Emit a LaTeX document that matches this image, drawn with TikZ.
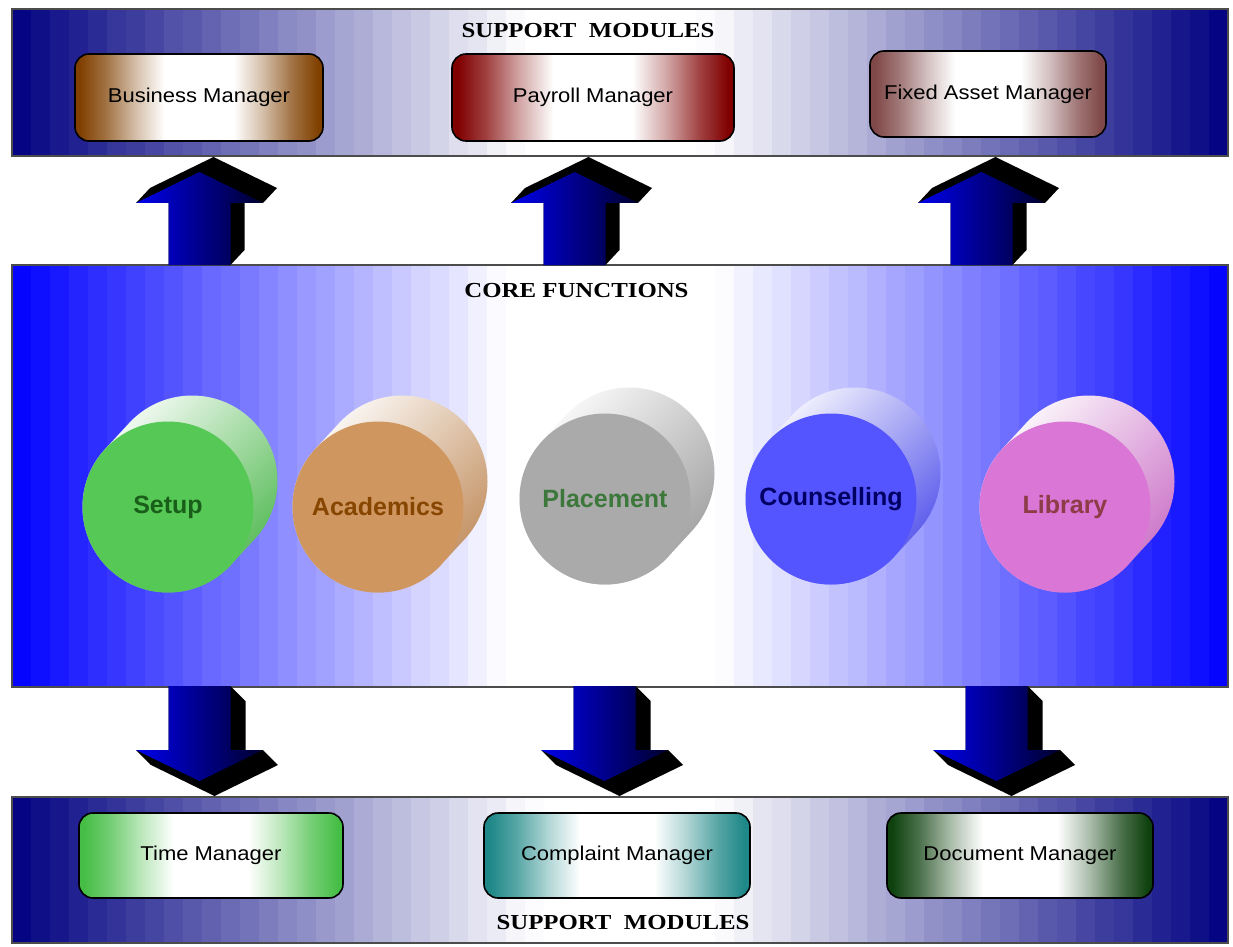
\documentclass[tikz,border=0pt]{standalone}
\usepackage{fontspec}
\usepackage{graphicx}
\setmainfont{Liberation Serif}
\setsansfont{Liberation Sans}
\usetikzlibrary{fit}

\definecolor{navyb}{RGB}{0,0,128}
\definecolor{blueb}{RGB}{0,0,255}
\definecolor{bizc}{RGB}{128,64,0}
\definecolor{payc}{RGB}{128,0,0}
\definecolor{fixc}{RGB}{128,72,72}
\definecolor{timec}{RGB}{70,190,70}
\definecolor{compc}{RGB}{30,135,135}
\definecolor{docc}{RGB}{15,65,15}
\definecolor{setupc}{RGB}{85,200,85}
\definecolor{acadc}{RGB}{208,150,96}
\definecolor{placec}{RGB}{170,170,170}
\definecolor{counc}{RGB}{85,85,255}
\definecolor{libc}{RGB}{218,118,214}
\definecolor{setupt}{RGB}{25,95,25}
\definecolor{acadt}{RGB}{135,70,0}
\definecolor{placet}{RGB}{60,120,60}
\definecolor{count}{RGB}{0,0,100}
\definecolor{libt}{RGB}{140,60,70}
\definecolor{arrl}{RGB}{0,0,235}
\definecolor{arrr}{RGB}{0,0,45}

\newcommand{\mkboxshade}[2]{%
  \pgfdeclarehorizontalshading{#1}{100bp}{color(0bp)=(#2); color(26bp)=(#2);
    color(31bp)=(#2!75!white); color(37bp)=(#2!35!white); color(43bp)=(white);
    color(57bp)=(white); color(63bp)=(#2!35!white); color(69bp)=(#2!75!white);
    color(74bp)=(#2); color(100bp)=(#2)}}
\mkboxshade{bizsh}{bizc}
\mkboxshade{paysh}{payc}
\mkboxshade{fixsh}{fixc}
\mkboxshade{timesh}{timec}
\mkboxshade{compsh}{compc}
\mkboxshade{docsh}{docc}

\newcommand{\mybands}[5]{%
  \foreach \i in {0,...,63}{%
    \pgfmathsetmacro{\xa}{12+\i*19}%
    \pgfmathsetmacro{\xb}{min(\xa+19.6,1228)}%
    \pgfmathsetmacro{\xm}{\xa+9.5}%
    \pgfmathtruncatemacro{\p}{min(100,100*max(0,(#4-\xm)/(#4-12),(\xm-#5)/(1228-#5)))}%
    \fill[#3!\p!white] (\xa,#1) rectangle (\xb,#2);%
  }}

\newcommand{\myuparrow}[1]{%
  \begin{scope}[shift={(#1)}]
    \fill[black] (-63.5,-62) -- (-49.5,-77) -- (14,-108) -- (77.5,-77) -- (63.5,-62) -- (45,-62) -- (45,-15) -- (31,0) -- (-31,0) -- (-31,-62) -- cycle;
    \shade[arrowfront] (-31,0) -- (-31,-62) -- (-63.5,-62) -- (0,-93) -- (63.5,-62) -- (31,-62) -- (31,0) -- cycle;
  \end{scope}}

\newcommand{\mydownarrow}[1]{%
  \begin{scope}[shift={(#1)}]
    \fill[black] (-31,0) -- (31,0) -- (46,15) -- (46,64) -- (63.5,64) -- (78.5,79) -- (15,110) -- (-48.5,79) -- (-63.5,64) -- (-31,64) -- cycle;
    \shade[arrowfront] (-31,0) -- (31,0) -- (31,64) -- (63.5,64) -- (0,95) -- (-63.5,64) -- (-31,64) -- cycle;
  \end{scope}}

\newcommand{\mycyl}[6]{%
  \begin{scope}[shift={(#1,#2)}]
    \shade[top color=white, bottom color=#3!92!black, shading angle=45]
      (86.83,31.99) arc[start angle=42.71, end angle=-137.29, radius=85.5]
      -- (-62.83,-57.99) arc[start angle=222.71, end angle=42.71, radius=85.5] -- cycle;
    \node[circle, fill=#3, minimum size=85.5pt, inner sep=0pt, cyllabel, text=#6] (#4) at (0,0) {#5};
  \end{scope}}

\tikzset{
  bandframe/.style={draw=black!70, line width=0.6pt, inner sep=0pt},
  modbox/.style={draw=black, line width=0.8pt, rounded corners=7pt, inner sep=0pt,
    font=\sffamily\fontsize{10}{12}\selectfont, text=black},
  heading/.style={font=\rmfamily\bfseries\fontsize{10.7}{12}\selectfont, inner sep=0pt, anchor=base},
  cyllabel/.style={font=\sffamily\bfseries\fontsize{12.5}{14}\selectfont},
  arrowfront/.style={left color=arrl, right color=arrr},
}

\begin{document}
\begin{tikzpicture}[x=0.5pt, y=-0.5pt]
\useasboundingbox (0,0) rectangle (1233,947);
\fill[white] (0,0) rectangle (1233,947);

% bands
\mybands{9}{156}{navyb}{530}{700}
\mybands{265}{687}{blueb}{510}{715}
\mybands{797}{943}{navyb}{540}{710}
\node[bandframe, fit={(12,9)(1228,156)}] (topband) {};
\node[bandframe, fit={(12,265)(1228,687)}] (coreband) {};
\node[bandframe, fit={(12,797)(1228,943)}] (botband) {};

% arrow anchor coordinates
\coordinate (ua1) at (199.5,265);
\coordinate (ua2) at (574.5,265);
\coordinate (ua3) at (981.5,265);
\coordinate (da1) at (199.5,686);
\coordinate (da2) at (604.5,686);
\coordinate (da3) at (996.5,686);
\myuparrow{ua1}
\myuparrow{ua2}
\myuparrow{ua3}
\mydownarrow{da1}
\mydownarrow{da2}
\mydownarrow{da3}

% module boxes
\node[modbox, minimum width=124pt, minimum height=43.5pt, shading=bizsh] (biz) at (199,97.5) {\scalebox{1.1}[1]{Business Manager}};
\node[modbox, minimum width=141pt, minimum height=43.5pt, shading=paysh] (pay) at (593,97.5) {\scalebox{1.1}[1]{Payroll Manager}};
\node[modbox, minimum width=118pt, minimum height=43pt, shading=fixsh] (fix) at (988,94) {\scalebox{1.1}[1]{Fixed Asset Manager}};
\node[modbox, minimum width=132pt, minimum height=42.5pt, shading=timesh] (time) at (211,855.5) {\scalebox{1.1}[1]{Time Manager}};
\node[modbox, minimum width=133pt, minimum height=42.5pt, shading=compsh] (comp) at (617,855.5) {\scalebox{1.1}[1]{Complaint Manager}};
\node[modbox, minimum width=133pt, minimum height=42.5pt, shading=docsh] (doc) at (1020,855.5) {\scalebox{1.1}[1]{Document Manager}};

% headings
\node[heading] (topsm) at (588,38) {\scalebox{1.16}[1]{SUPPORT\ \ MODULES}};
\node[heading] (corefn) at (576.5,298) {\scalebox{1.16}[1]{CORE FUNCTIONS}};
\node[heading] (botsm) at (623,929) {\scalebox{1.16}[1]{SUPPORT\ \ MODULES}};

% core function cylinders
\mycyl{168}{507}{setupc}{setup}{Setup}{setupt}
\mycyl{378}{507}{acadc}{acad}{Academics}{acadt}
\mycyl{605}{499}{placec}{place}{Placement}{placet}
\mycyl{831}{499}{counc}{couns}{Counselling}{count}
\mycyl{1065}{507}{libc}{lib}{Library}{libt}
\end{tikzpicture}
\end{document}
